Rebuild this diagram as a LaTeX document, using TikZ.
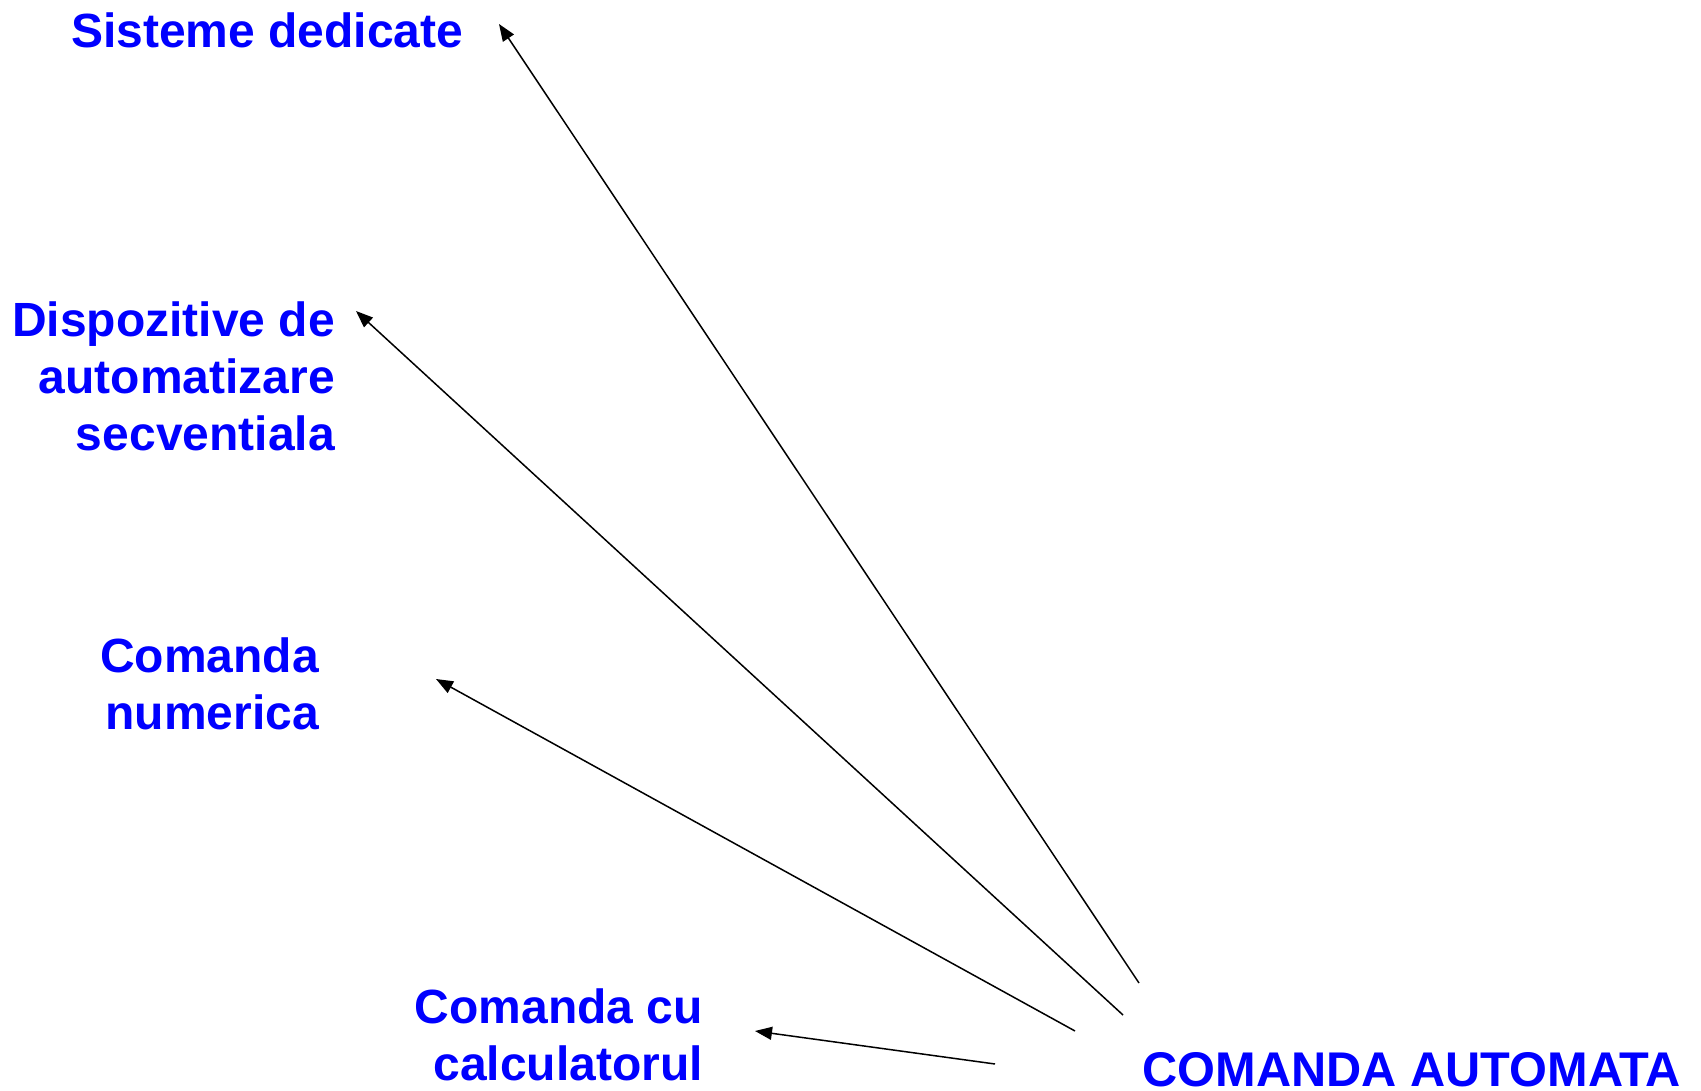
\documentclass[tikz,border=0pt]{standalone}
\usepackage{fontspec}
\setmainfont{Liberation Sans}
\usetikzlibrary{arrows.meta}

\begin{document}
\begin{tikzpicture}[x=1pt,y=-1pt,
  lbl/.style={text=blue, font=\bfseries\fontsize{48}{57}\selectfont, inner sep=0pt},
  link/.style={line width=1.5pt, -{Triangle[length=17pt,width=13pt]}}]
\useasboundingbox (0,0) rectangle (1701,1091);

% category labels
\node[lbl, anchor=base west] (sd) at (71,47.3) {Sisteme dedicate};
\node[lbl, align=right, anchor=north east] (das) at (335,301.3)
  {Dispozitive de\\automatizare\\secventiala};
\node[lbl, align=right, anchor=north east] (cn) at (319,637.3)
  {Comanda\\numerica};
\node[lbl, align=right, anchor=north east] (cc) at (703,988.3)
  {Comanda cu\\calculatorul};
\node[lbl, anchor=base west, font=\bfseries\fontsize{48.7}{57}\selectfont] (ca)
  at (1142.5,1086) {COMANDA AUTOMATA};

% arrow end points
\coordinate (s1) at (1139,983);  \coordinate (t1) at (499,24);
\coordinate (s2) at (1123,1015); \coordinate (t2) at (356,311);
\coordinate (s3) at (1075,1031); \coordinate (t3) at (436,679);
\coordinate (s4) at (995,1064);  \coordinate (t4) at (755,1031);

% arrows
\draw[link] (s1) -- (t1);
\draw[link] (s2) -- (t2);
\draw[link] (s3) -- (t3);
\draw[link] (s4) -- (t4);
\end{tikzpicture}
\end{document}
